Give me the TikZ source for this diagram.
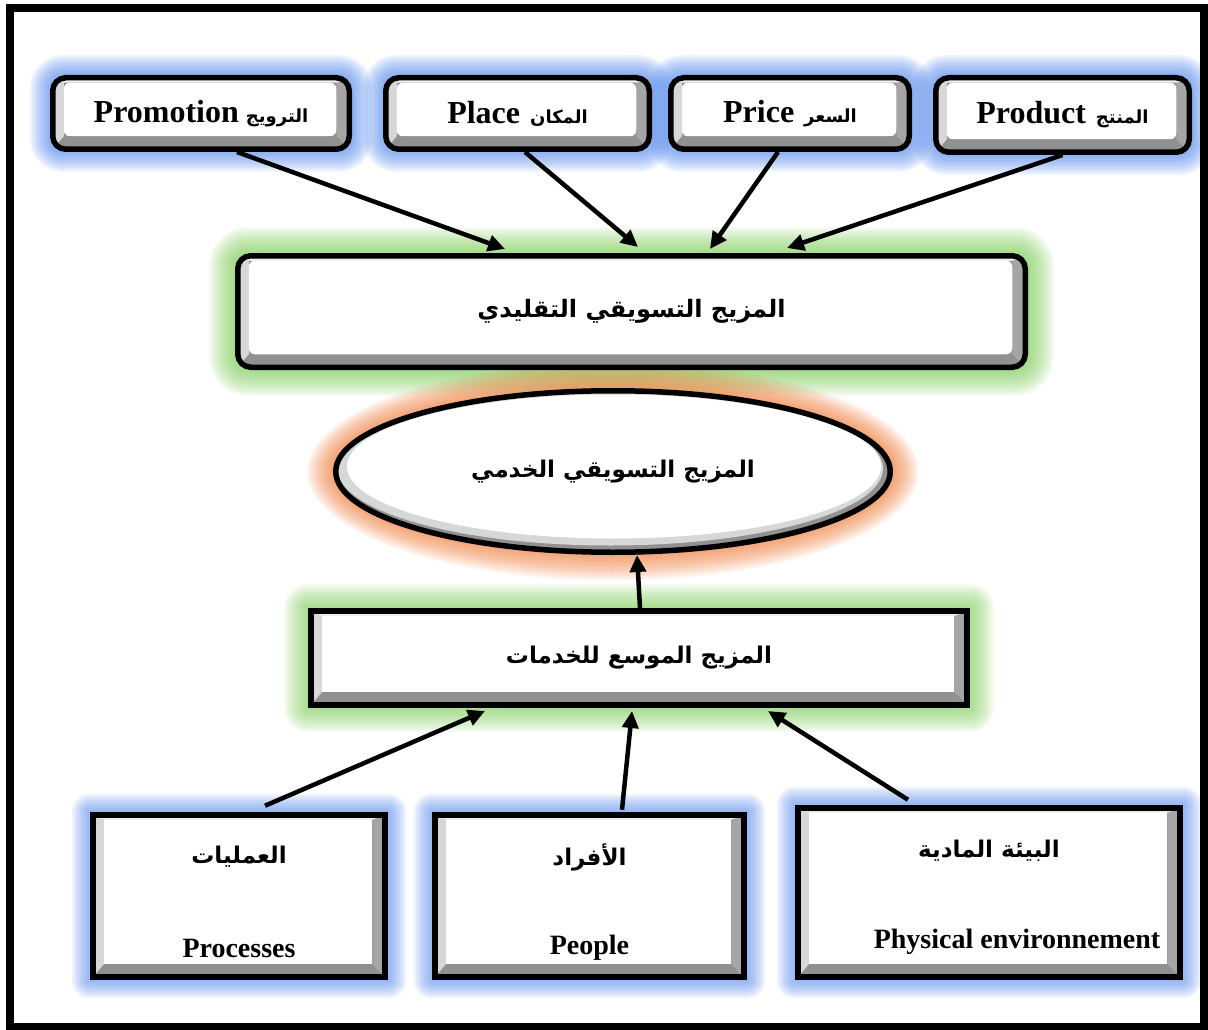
\documentclass[tikz,border=0pt]{standalone}
\usepackage{fontspec}
\setmainfont{Liberation Serif}
\newfontfamily\arabicfont[Script=Arabic]{DejaVu Sans}
\TeXXeTstate=1
\usetikzlibrary{arrows.meta,shapes.geometric}

\definecolor{glowblue}{RGB}{80,135,240}
\definecolor{glowgreen}{RGB}{120,205,80}
\definecolor{gloworange}{RGB}{245,120,50}
\definecolor{bevdark}{RGB}{145,145,145}
\definecolor{bevmid}{RGB}{165,165,165}
\definecolor{bevlight}{RGB}{215,215,215}
\definecolor{bevtop}{RGB}{238,238,238}

\pgfdeclarelayer{bg}
\pgfdeclarelayer{glow}
\pgfsetlayers{bg,glow,main}

% text helpers
\newcommand{\entop}[1]{{\fontsize{32}{36}\selectfont\bfseries #1}}
\newcommand{\enbot}[1]{{\fontsize{28}{32}\selectfont\bfseries #1}}
\newcommand{\arsmall}[1]{{\arabicfont\fontsize{18}{22}\selectfont\bfseries\beginR #1\endR}}
\newcommand{\arbig}[1]{{\arabicfont\fontsize{24}{30}\selectfont\bfseries\beginR #1\endR}}
\newcommand{\arell}[1]{{\arabicfont\fontsize{23}{28}\selectfont\bfseries\beginR #1\endR}}
\newcommand{\armid}[1]{{\arabicfont\fontsize{23}{28}\selectfont\bfseries\beginR #1\endR}}

\tikzset{
  bevel/.style={path picture={
    \path (path picture bounding box.south west) coordinate (bsw)
          (path picture bounding box.north east) coordinate (bne);
    \path (bsw |- bne) coordinate (bnw) (bsw -| bne) coordinate (bse);
    \path ([shift={(11pt,13pt)}]bsw) coordinate (isw)
          ([shift={(-13pt,-5pt)}]bne) coordinate (ine);
    \path (isw |- ine) coordinate (inw) (isw -| ine) coordinate (ise);
    \fill[bevdark,sharp corners] (bsw) rectangle (bne);
    \fill[bevmid,sharp corners] (bne) -- (bse) -- (ise) -- (ine) -- cycle;
    \fill[bevlight,sharp corners] (bsw) -- (bnw) -- (inw) -- (isw) -- cycle;
    \fill[bevtop,sharp corners] (bnw) -- (bne) -- (ine) -- (inw) -- cycle;
    \fill[white,rounded corners=#1] (isw) rectangle (ine);
  }},
  box/.style={draw=black, line width=5.5pt, fill=white, inner sep=0pt, bevel=#1},
  rbox/.style={box=6pt, rounded corners=13pt},
  sbox/.style={box=0pt},
  ebevel/.style={path picture={
    \path (path picture bounding box.center) coordinate (ec);
    \fill[bevdark] (path picture bounding box.south west) rectangle (path picture bounding box.north east);
    \fill[bevlight] ([shift={(-3pt,3pt)}]ec) ellipse [x radius=273pt, y radius=77pt];
    \fill[white] ([shift={(1pt,5pt)}]ec) ellipse [x radius=267pt, y radius=72pt];
  }},
  ebox/.style={ellipse, draw=black, line width=5.5pt, fill=white, inner sep=0pt, ebevel},
  lbl/.style={inner sep=0pt},
  arr/.style={line width=4.5pt, -{Triangle[length=17pt,width=16pt]}},
}

\begin{document}
\begin{tikzpicture}[x=1pt,y=-1pt]
\begin{pgfonlayer}{bg}
  \fill[white] (0,0) rectangle (1208,1030);
\end{pgfonlayer}
\useasboundingbox (0,0) rectangle (1208,1030);

% outer frame
\draw[line width=8pt] (9.5,8.5) rectangle (1204,1026.5);

% the four classic elements
\node[rbox, minimum width=296.5pt, minimum height=71.5pt] (promo) at (201,113.5)
  {\entop{Promotion}\hspace{7pt}\arsmall{الترويج}};
\node[rbox, minimum width=263.5pt, minimum height=71.5pt] (place) at (517.5,113.5)
  {\entop{Place}\hspace{10pt}\arsmall{المكان}};
\node[rbox, minimum width=238.5pt, minimum height=71.5pt] (price) at (790,113.5)
  {\entop{Price}\hspace{10pt}\arsmall{السعر}};
\node[rbox, minimum width=253.5pt, minimum height=74.5pt] (prod) at (1062.5,115)
  {\entop{Product}\hspace{10pt}\arsmall{المنتج}};

% traditional mix
\node[rbox, minimum width=787.5pt, minimum height=111.5pt] (trad) at (631.5,311.5)
  {\raisebox{3pt}{\arbig{المزيج التسويقي التقليدي}}};

% services mix
\node[ebox, minimum width=554.5pt, minimum height=161.5pt] (ell) at (613,471.5)
  {\raisebox{5pt}{\arell{المزيج التسويقي الخدمي}}};

% extended mix
\node[sbox, line width=6pt, minimum width=656pt, minimum height=94pt] (ext) at (639,658)
  {\armid{المزيج الموسع للخدمات}};

% the three added elements
\node[sbox, line width=6pt, minimum width=292.5pt, minimum height=162.5pt] (proc) at (239,896) {};
\node[sbox, line width=6pt, minimum width=309.5pt, minimum height=162.5pt] (people) at (589.5,896) {};
\node[sbox, line width=6pt, minimum width=382.5pt, minimum height=169.5pt] (phys) at (989,892.5) {};

\node[lbl] (proc-ar) at ([yshift=39pt]proc.center) {\armid{العمليات}};
\node[lbl] (proc-en) at ([yshift=-52pt]proc.center) {\enbot{Processes}};
\node[lbl] (people-ar) at ([yshift=39pt]people.center) {\armid{الأفراد}};
\node[lbl] (people-en) at ([yshift=-52pt]people.center) {\enbot{People}};
\node[lbl] (phys-ar) at ([yshift=42pt]phys.center) {\armid{البيئة المادية}};
\node[lbl] (phys-en) at ([xshift=28pt,yshift=-49pt]phys.center) {\enbot{Physical environnement}};

% soft glows behind the shapes
\begin{pgfonlayer}{glow}
  \foreach \n in {promo,place,price,prod} {
    \foreach \e in {2,4,...,20} {
      \pgfmathsetmacro{\rr}{13+\e}
      \fill[glowblue, opacity=0.085, rounded corners=\rr pt]
        ([shift={(-\e pt,-\e pt)}]\n.south west) rectangle ([shift={(\e pt,\e pt)}]\n.north east);
    }
  }
  \foreach \n in {proc,people,phys} {
    \foreach \e in {2,4,...,18} {
      \fill[glowblue, opacity=0.085, rounded corners=\e pt]
        ([shift={(-\e pt,-\e pt)}]\n.south west) rectangle ([shift={(\e pt,\e pt)}]\n.north east);
    }
  }
  \foreach \e in {2,4,...,26} {
    \pgfmathsetmacro{\rr}{13+\e}
    \fill[glowgreen, opacity=0.07, rounded corners=\rr pt]
      ([shift={(-\e pt,-\e pt)}]trad.south west) rectangle ([shift={(\e pt,\e pt)}]trad.north east);
  }
  \foreach \e in {2,4,...,24} {
    \fill[glowgreen, opacity=0.07, rounded corners=\e pt]
      ([shift={(-\e pt,-\e pt)}]ext.south west) rectangle ([shift={(\e pt,\e pt)}]ext.north east);
  }
  \foreach \e in {2,4,...,26} {
    \pgfmathsetmacro{\rx}{280+\e}
    \pgfmathsetmacro{\ry}{83+\e}
    \fill[gloworange, opacity=0.07] (ell.center) ellipse [x radius=\rx pt, y radius=\ry pt];
  }
\end{pgfonlayer}

% connectors
\draw[arr] ([xshift=36pt]promo.south) -- ([xshift=-126.5pt,yshift=4pt]trad.north);
\draw[arr] ([xshift=7.5pt]place.south) -- ([xshift=6.5pt,yshift=6pt]trad.north);
\draw[arr] ([xshift=-12pt]price.south) -- ([xshift=78.5pt,yshift=4pt]trad.north);
\draw[arr] (prod.south) -- ([xshift=155.5pt,yshift=5pt]trad.north);
\draw[arr] ([xshift=1pt]ext.north) -- ([xshift=24pt]ell.south);
\draw[arr] ([xshift=26pt,yshift=6pt]proc.north) -- ([xshift=-154pt,yshift=-3pt]ext.south);
\draw[arr] ([xshift=32.5pt,yshift=2pt]people.north) -- ([xshift=-7pt,yshift=-3pt]ext.south);
\draw[arr] ([xshift=-81pt,yshift=5pt]phys.north) -- ([xshift=129pt,yshift=-3pt]ext.south);
\end{tikzpicture}
\end{document}
